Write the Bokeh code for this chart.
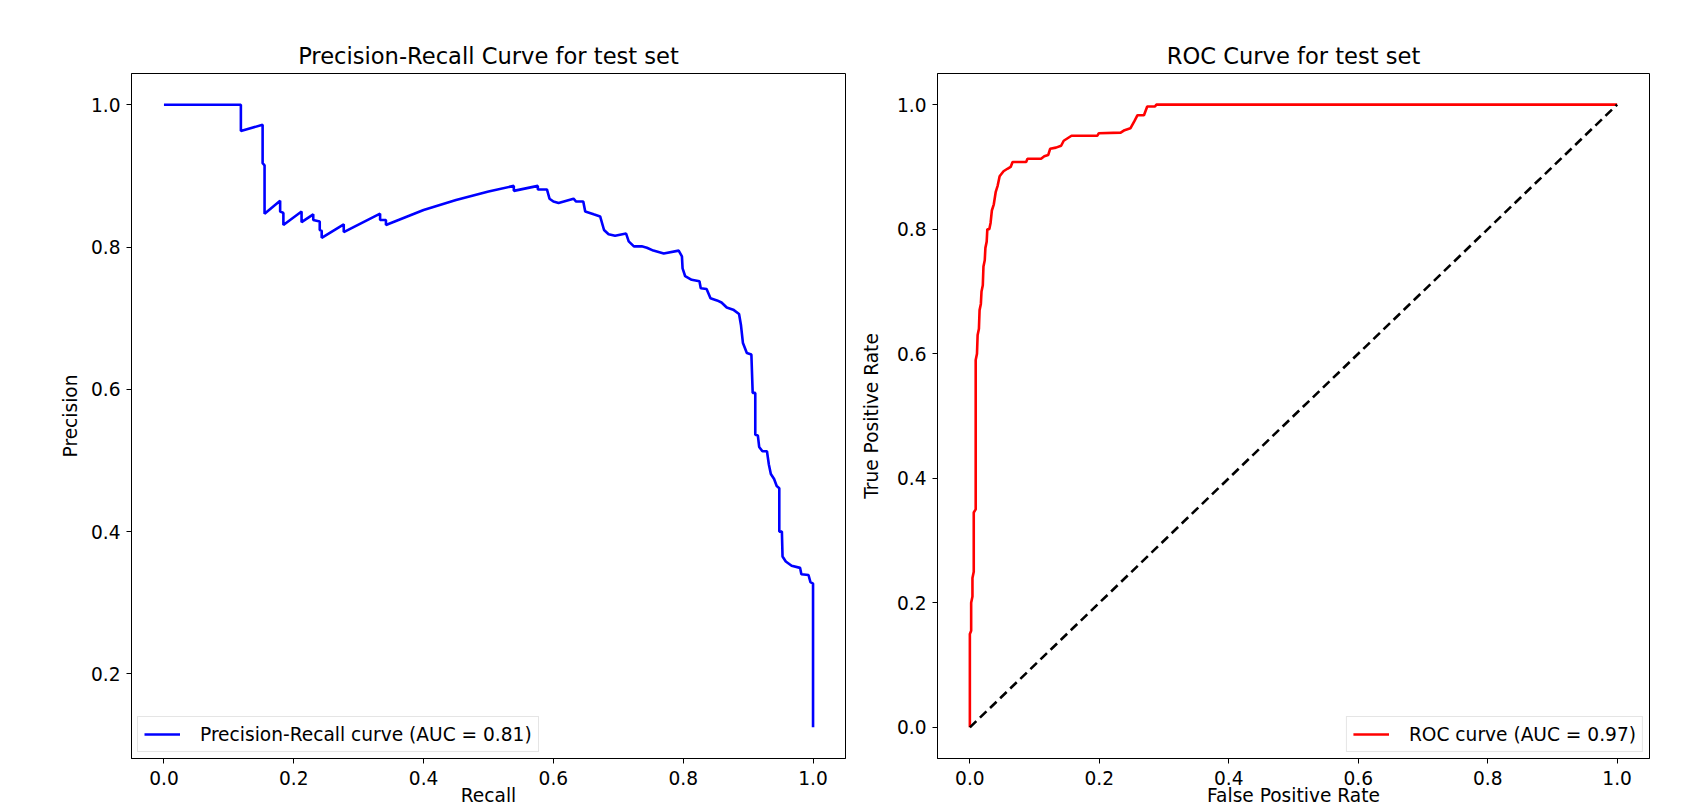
from bokeh.plotting import figure
from bokeh.layouts import row
from bokeh.models import Range1d, FixedTicker, PrintfTickFormatter, Legend, LegendItem
from bokeh.embed import file_html
from bokeh.resources import INLINE

# ---------------- data ----------------
recall = [0.0, 0.1185, 0.1185, 0.152, 0.152, 0.155, 0.155, 0.179, 0.179, 0.184,
          0.184, 0.212, 0.212, 0.230, 0.230, 0.240, 0.240, 0.243, 0.243, 0.277,
          0.277, 0.333, 0.333, 0.342, 0.342, 0.40, 0.45, 0.50, 0.539, 0.539,
          0.576, 0.576, 0.590, 0.594, 0.600, 0.608, 0.631, 0.635, 0.646, 0.649,
          0.662, 0.672, 0.678, 0.685, 0.695, 0.712, 0.716, 0.724, 0.736, 0.744,
          0.754, 0.770, 0.793, 0.798, 0.799, 0.803, 0.813, 0.825, 0.827, 0.836,
          0.842, 0.852, 0.859, 0.867, 0.877, 0.886, 0.889, 0.892, 0.898, 0.905,
          0.907, 0.911, 0.911, 0.915, 0.917, 0.922, 0.929, 0.932, 0.935, 0.940,
          0.944, 0.948, 0.948, 0.952, 0.953, 0.958, 0.967, 0.980, 0.982, 0.993,
          0.996, 1.0, 1.0]
precision = [1.0, 1.0, 0.963, 0.972, 0.918, 0.915, 0.847, 0.865, 0.850, 0.848,
             0.831, 0.850, 0.835, 0.846, 0.838, 0.836, 0.824, 0.823, 0.813, 0.832,
             0.821, 0.847, 0.838, 0.838, 0.831, 0.852, 0.866, 0.878, 0.886, 0.879,
             0.886, 0.881, 0.881, 0.868, 0.864, 0.862, 0.868, 0.864, 0.864, 0.850,
             0.846, 0.843, 0.824, 0.818, 0.816, 0.819, 0.808, 0.801, 0.801, 0.799,
             0.795, 0.791, 0.795, 0.787, 0.770, 0.759, 0.754, 0.752, 0.742, 0.741,
             0.728, 0.725, 0.722, 0.715, 0.712, 0.706, 0.690, 0.665, 0.651, 0.649,
             0.595, 0.595, 0.536, 0.535, 0.519, 0.513, 0.513, 0.494, 0.481, 0.474,
             0.464, 0.461, 0.400, 0.400, 0.365, 0.358, 0.352, 0.349, 0.340, 0.339,
             0.329, 0.327, 0.125]

fpr = [0.0, 0.0, 0.002, 0.002, 0.004, 0.004, 0.006, 0.006, 0.009, 0.009,
       0.011, 0.012, 0.014, 0.015, 0.017, 0.018, 0.020, 0.021, 0.023, 0.024,
       0.026, 0.027, 0.030, 0.032, 0.034, 0.037, 0.040, 0.043, 0.046, 0.052,
       0.058, 0.063, 0.066, 0.087, 0.089, 0.110, 0.115, 0.121, 0.124, 0.133,
       0.141, 0.145, 0.151, 0.157, 0.197, 0.199, 0.233, 0.239, 0.248, 0.254,
       0.259, 0.269, 0.274, 0.286, 0.288, 1.0]
tpr = [0.0, 0.15, 0.155, 0.20, 0.21, 0.24, 0.25, 0.345, 0.35, 0.59,
       0.60, 0.63, 0.64, 0.67, 0.68, 0.70, 0.71, 0.74, 0.75, 0.77,
       0.78, 0.80, 0.80, 0.81, 0.83, 0.84, 0.86, 0.87, 0.885, 0.893,
       0.897, 0.900, 0.908, 0.908, 0.913, 0.913, 0.917, 0.919, 0.929, 0.931,
       0.934, 0.942, 0.946, 0.950, 0.950, 0.954, 0.955, 0.959, 0.962, 0.973,
       0.983, 0.983, 0.997, 0.997, 1.0, 1.0]

chance_x = [0.0, 1.0]
chance_y = [0.0, 1.0]

x_ticks = [0.0, 0.2, 0.4, 0.6, 0.8, 1.0]
pr_y_ticks = [0.2, 0.4, 0.6, 0.8, 1.0]
roc_y_ticks = [0.0, 0.2, 0.4, 0.6, 0.8, 1.0]

pr_title = "Precision-Recall Curve for test set"
roc_title = "ROC Curve for test set"
pr_label = "Precision-Recall curve (AUC = 0.81)"
roc_label = "ROC curve (AUC = 0.97)"

FONT = "DejaVu Sans"
TICK_FS = "18.6px"
TITLE_FS = "22.6px"


def style(p, xt, yt, ylab_standoff):
    p.grid.visible = False
    p.outline_line_color = "black"
    p.outline_line_width = 1
    p.title.text_font = FONT
    p.title.text_font_size = TITLE_FS
    p.title.text_font_style = "normal"
    p.title.text_color = "black"
    p.title.align = "center"
    p.title.standoff = 9
    for ax in (p.xaxis[0], p.yaxis[0]):
        ax.axis_line_color = "black"
        ax.major_tick_line_color = "black"
        ax.major_tick_out = 5
        ax.major_tick_in = 0
        ax.minor_tick_line_color = None
        ax.major_label_text_font = FONT
        ax.major_label_text_font_size = TICK_FS
        ax.major_label_text_color = "black"
        ax.axis_label_text_font = FONT
        ax.axis_label_text_font_size = TICK_FS
        ax.axis_label_text_font_style = "normal"
        ax.axis_label_text_color = "black"
        ax.formatter = PrintfTickFormatter(format="%.1f")
    p.xaxis[0].ticker = FixedTicker(ticks=xt)
    p.yaxis[0].ticker = FixedTicker(ticks=yt)
    p.xaxis[0].major_label_standoff = 7
    p.xaxis[0].axis_label_standoff = -3
    p.yaxis[0].major_label_standoff = 6
    p.yaxis[0].axis_label_standoff = ylab_standoff


def add_legend(p, renderer, label, loc):
    lg = Legend(items=[LegendItem(label=label, renderers=[renderer])], location=loc)
    lg.label_text_font = FONT
    lg.label_text_font_size = TICK_FS
    lg.label_text_color = "black"
    lg.border_line_color = "#cccccc"
    lg.border_line_width = 1
    lg.background_fill_alpha = 0.8
    lg.padding = 6
    lg.margin = 6
    lg.spacing = 0
    lg.glyph_width = 36
    lg.glyph_height = 22
    lg.label_standoff = 20
    lg.label_height = 22
    p.add_layout(lg)


# ---------------- Precision-Recall ----------------
p1 = figure(width=857, height=808, output_backend="svg", toolbar_location=None,
            x_range=Range1d(-0.05, 1.05), y_range=Range1d(0.081, 1.044),
            title=pr_title, x_axis_label="Recall", y_axis_label="Precision",
            min_border_left=131, min_border_right=12, min_border_top=73,
            min_border_bottom=40)
style(p1, x_ticks, pr_y_ticks, 7)
r1 = p1.line(recall, precision, line_color="blue", line_width=2.6)
add_legend(p1, r1, pr_label, "bottom_left")

# ---------------- ROC ----------------
p2 = figure(width=809, height=808, output_backend="svg", toolbar_location=None,
            x_range=Range1d(-0.05, 1.05), y_range=Range1d(-0.05, 1.05),
            title=roc_title, x_axis_label="False Positive Rate",
            y_axis_label="True Positive Rate",
            min_border_left=75, min_border_right=17, min_border_top=73,
            min_border_bottom=40)
style(p2, x_ticks, roc_y_ticks, 12)
r2 = p2.line(fpr, tpr, line_color="red", line_width=2.6)
p2.line(chance_x, chance_y, line_color="black", line_width=2.6, line_dash="9 5")
add_legend(p2, r2, roc_label, "bottom_right")

layout = row(p1, p2)
open("out.html", "w").write(file_html(layout, INLINE))
